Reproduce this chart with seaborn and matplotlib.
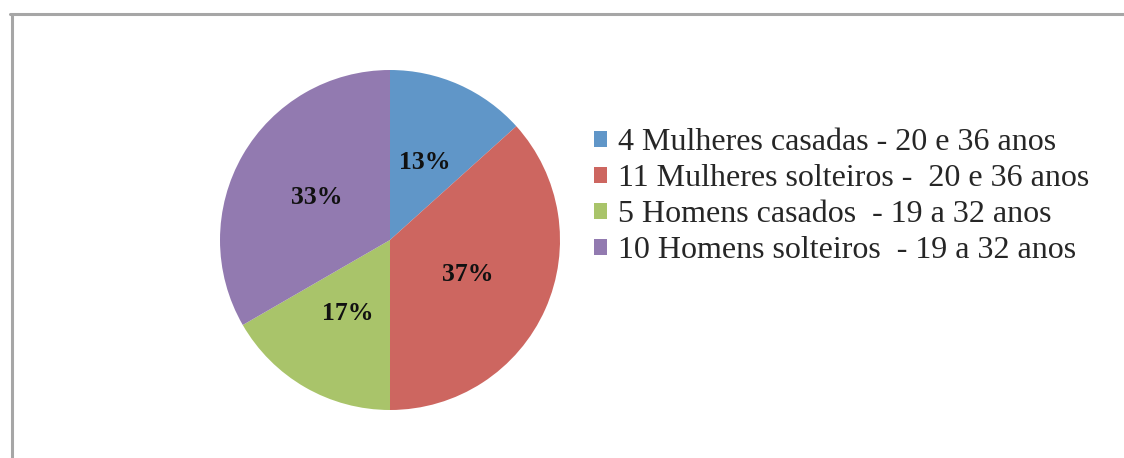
import matplotlib
matplotlib.use("Agg")
import matplotlib.pyplot as plt
import seaborn as sns
from matplotlib.lines import Line2D
from matplotlib.patches import Patch

categories = ["4 Mulheres casadas - 20 e 36 anos",
              "11 Mulheres solteiros -  20 e 36 anos",
              "5 Homens casados  - 19 a 32 anos",
              "10 Homens solteiros  - 19 a 32 anos"]
counts = [4, 11, 5, 10]
colors = ["#6096C8", "#CD6660", "#A9C46A", "#927AB0"]

sns.set_theme(style="white")
plt.rcParams["font.family"] = ["Liberation Serif", "DejaVu Serif"]

fig = plt.figure(figsize=(11.24, 4.58), dpi=100)
palette = sns.color_palette(colors)

# pie centred at about (390, 240) px, radius 170 px
ax = fig.add_axes([220 / 1124, 1 - 410 / 458, 340 / 1124, 340 / 458])
wedges, texts, autotexts = ax.pie(
    counts, colors=palette, startangle=90, counterclock=False,
    autopct="%1.0f%%", pctdistance=0.5, radius=1,
    wedgeprops=dict(linewidth=0))
for t in autotexts:
    t.set_fontsize(18.5)
    t.set_fontweight("bold")
    t.set_color("#111111")
ax.set_xlim(-1, 1)
ax.set_ylim(-1, 1)
ax.set_aspect("equal")
ax.axis("off")

handles = [Patch(facecolor=c, edgecolor="none") for c in palette]
fig.legend(handles, categories, loc="upper left",
           bbox_to_anchor=(594 / 1124, 1 - 128 / 458), frameon=False,
           fontsize=23, handlelength=0.4, handleheight=0.4,
           handletextpad=0.34, labelspacing=0.22, borderaxespad=0,
           borderpad=0)

# grey frame, only left and top edges are inside the picture
fig.add_artist(Line2D([11.5 / 1124, 11.5 / 1124], [0, 1 - 14 / 458],
                      transform=fig.transFigure, color="#A6A6A6", lw=2.2))
fig.add_artist(Line2D([10.4 / 1124, 1], [1 - 14 / 458, 1 - 14 / 458],
                      transform=fig.transFigure, color="#A6A6A6", lw=2.2))

fig.savefig("out.png", dpi=100)
